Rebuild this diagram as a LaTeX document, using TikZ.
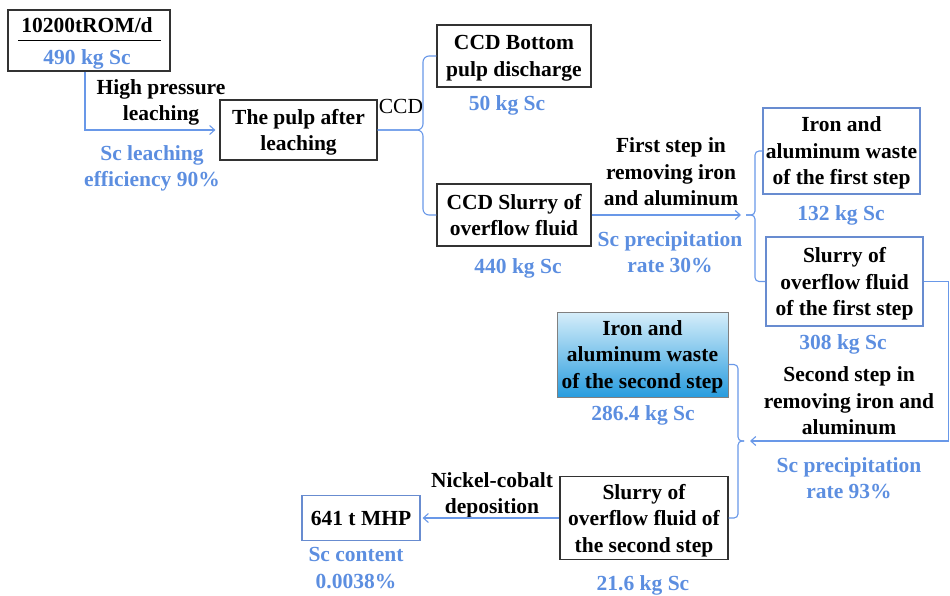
\documentclass[tikz,border=0pt]{standalone}
\usepackage{fontspec}
\setmainfont{Liberation Serif}
\usetikzlibrary{arrows.meta}

\definecolor{scblue}{RGB}{92,142,224}
\definecolor{lineblue}{RGB}{105,152,232}
\definecolor{boxgray}{RGB}{50,50,50}
\definecolor{frameblue}{RGB}{104,140,208}

\begin{document}
\begin{tikzpicture}[x=1pt,y=-1pt,
    every node/.style={font=\fontsize{21.5}{26.5}\selectfont\bfseries, align=center, inner sep=0pt, text depth=0pt},
    box/.style={draw=boxgray, line width=1.2pt},
    bluebox/.style={draw=frameblue, line width=1.2pt},
    sclab/.style={text=scblue},
    flow/.style={draw=lineblue, line width=1.1pt},
    arr/.style={flow, -{Straight Barb[length=5pt,width=9pt]}},
    fork/.style={flow, rounded corners=#1}, fork/.default=6pt]
    \useasboundingbox (0,0) rectangle (950,595);

    % Ore feed
    \node[box, minimum width=162pt, minimum height=61pt] (feed) at (89,40.5) {};
    \node (feedname) at (87,25) {10200tROM/d};
    \draw[line width=1pt] (18,40) -- (161,40);
    \node[sclab] (feedsc) at (87,57) {490 kg Sc};

    % Leaching
    \node[box, minimum width=157pt, minimum height=60pt] (pulp) at (298.5,130) {The pulp after\\leaching};
    \node (hpl) at (161,100) {High pressure\\leaching};
    \node[sclab] (leacheff) at (152,166) {Sc leaching\\efficiency 90\%};

    % CCD
    \node[box, minimum width=154pt, minimum height=62pt] (ccdbot) at (514,56) {CCD Bottom\\pulp discharge};
    \node[sclab] (ccdbotsc) at (507,103) {50 kg Sc};
    \node[box, minimum width=154pt, minimum height=62pt] (ccdover) at (514,215) {CCD Slurry of\\overflow fluid};
    \node[sclab] (ccdoversc) at (518,266) {440 kg Sc};
    \node[font=\fontsize{21.5}{26.5}\selectfont] (ccdlab) at (401,106) {CCD};

    % First step
    \node (step1) at (671,172) {First step in\\removing iron\\and aluminum};
    \node[sclab] (rate1) at (670,252) {Sc precipitation\\rate 30\%};
    \node[bluebox, minimum width=157pt, minimum height=86pt] (waste1) at (841.5,151) {Iron and\\aluminum waste\\of the first step};
    \node[sclab] (waste1sc) at (841,213) {132 kg Sc};
    \node[bluebox, minimum width=157pt, minimum height=89pt] (slurry1) at (844.5,281.5) {Slurry of\\overflow fluid\\of the first step};
    \node[sclab] (slurry1sc) at (843,342) {308 kg Sc};

    % Second step
    \node (step2) at (849,401) {Second step in\\removing iron and\\aluminum};
    \node[sclab] (rate2) at (849,478) {Sc precipitation\\rate 93\%};
    \node[draw=gray, line width=1pt, top color={rgb,255:red,214;green,238;blue,250},
          bottom color={rgb,255:red,40;green,156;blue,222},
          minimum width=171pt, minimum height=85pt] (waste2) at (642.5,354.5) {Iron and\\aluminum waste\\of the second step};
    \node[sclab] (waste2sc) at (643,413) {286.4 kg Sc};
    \node[box, minimum width=168pt, minimum height=83pt] (slurry2) at (644,518) {Slurry of\\overflow fluid of\\the second step};
    \node[sclab] (slurry2sc) at (643,583) {21.6 kg Sc};

    % MHP
    \node (nico) at (492,493) {Nickel-cobalt\\deposition};
    \node[bluebox, minimum width=118pt, minimum height=45pt] (mhp) at (361,518) {641 t MHP};
    \node[sclab] (mhpsc) at (356,568) {Sc content\\0.0038\%};

    % Connectors
    \coordinate (split1) at (423,130);
    \coordinate (in2) at (741,215);
    \coordinate (fork2) at (746,215);
    \coordinate (spine2) at (755,215);
    \coordinate (in3) at (750,441);
    \coordinate (fork3) at (744,441);
    \coordinate (spine3) at (738,441);

    \draw[arr] ([xshift=-4pt]feed.south) |- ([xshift=-4pt]pulp.west);
    \draw[fork] (pulp.east) -- (split1) |- (ccdbot.west);
    \draw[fork] (pulp.east) -- (split1) |- (ccdover.west);
    \draw[arr] (ccdover.east) -- (in2);
    \draw[fork=4pt] (fork2) -- (spine2) |- (waste1.west);
    \draw[fork=4pt] (fork2) -- (spine2) |- (slurry1.west);
    \draw[arr] (slurry1.east) -- ++(25,0) |- (in3);
    \draw[fork=4pt] (fork3) -- (spine3) |- ([yshift=-10pt]waste2.east);
    \draw[fork=4pt] (fork3) -- (spine3) |- (slurry2.east);
    \draw[arr] (slurry2.west) -- ([xshift=2pt]mhp.east);
\end{tikzpicture}
\end{document}
